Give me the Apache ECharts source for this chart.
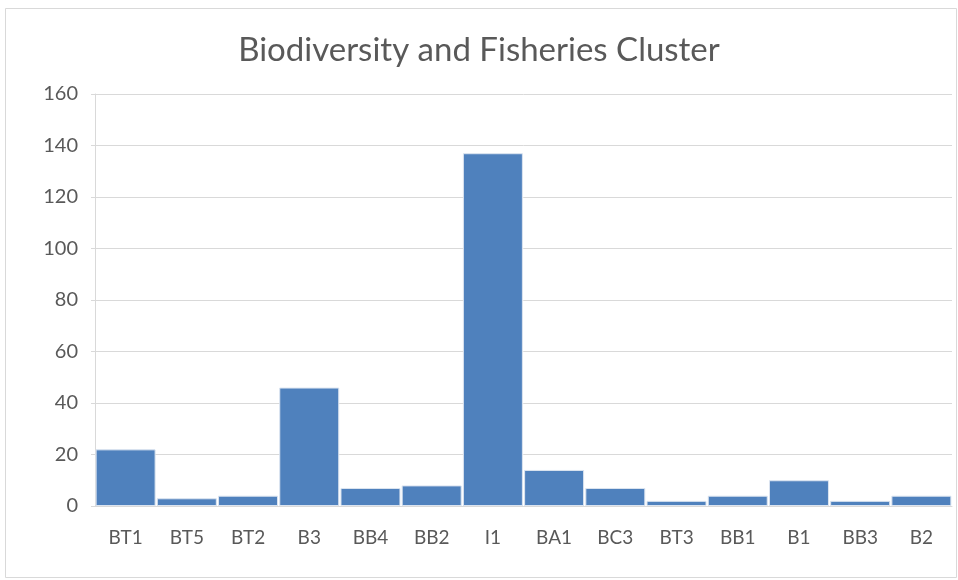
<!DOCTYPE html>
<html><head><meta charset="utf-8">
<script src="https://cdn.jsdelivr.net/npm/echarts@6/dist/echarts.min.js"></script>
<style>html,body{margin:0;padding:0;background:#fff}#c{width:958px;height:580px}</style>
</head><body><div id="c"></div>
<script>
const categories = ["BT1","BT5","BT2","B3","BB4","BB2","I1","BA1","BC3","BT3","BB1","B1","BB3","B2"];
const values = [22,3,4,46,7,8,137,14,7,2,4,10,2,4];
const yTicks = {min:0,max:160,interval:20};
const chart = echarts.init(document.getElementById('c'));
chart.setOption({
  animation:false,
  backgroundColor:'#fff',
  title:{text:'Biodiversity and Fisheries Cluster',left:'center',top:29,
    textStyle:{fontFamily:'Lato',fontSize:33,fontWeight:'normal',color:'#595959'}},
  graphic:[{type:'rect',shape:{x:5.5,y:8.5,width:951,height:569},style:{fill:'none',stroke:'#d9d9d9',lineWidth:1}}],
  grid:{left:95,right:6,top:94,bottom:74},
  xAxis:{type:'category',data:categories,
    axisLine:{lineStyle:{color:'#d9d9d9'}},axisTick:{show:false},
    axisLabel:{color:'#595959',fontFamily:'Lato',fontSize:19,margin:22}},
  yAxis:{type:'value',min:yTicks.min,max:yTicks.max,interval:yTicks.interval,
    axisLine:{show:true,lineStyle:{color:'#d9d9d9'}},
    axisTick:{show:true,length:4,lineStyle:{color:'#d9d9d9'}},
    splitLine:{lineStyle:{color:'#d9d9d9'}},
    axisLabel:{color:'#595959',fontFamily:'Lato',fontSize:20,margin:17}},
  series:[{type:'bar',data:values,barCategoryGap:'2%',
    itemStyle:{color:'#4F81BD',borderColor:'#dbe4f0',borderWidth:1}}]
});
</script></body></html>
